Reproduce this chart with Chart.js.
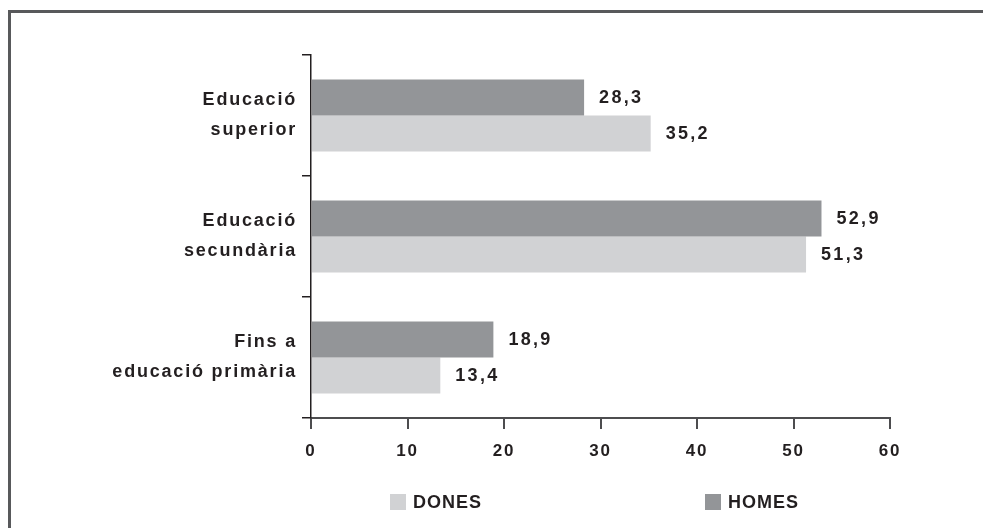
<!DOCTYPE html>
<html lang="ca">
<head>
<meta charset="utf-8">
<title>Nivell educatiu per sexe</title>
<script src="https://cdn.jsdelivr.net/npm/chart.js@4/dist/chart.umd.min.js"></script>
<style>
  html, body { margin: 0; padding: 0; background: #ffffff; overflow: hidden; }
  #frame {
    position: absolute; left: 8px; top: 10px; width: 2000px; height: 2000px;
    border-top: 3px solid #58595b; border-left: 3px solid #58595b;
  }
  #chart { position: absolute; left: 0; top: 0; }
</style>
</head>
<body>
<div id="frame"></div>
<canvas id="chart" width="983" height="528"></canvas>
<script>
// Nivell educatiu assolit (%), per sexe
const categories = [
  ['Educació', 'superior'],
  ['Educació', 'secundària'],
  ['Fins a', 'educació primària']
];
const homes = [28.3, 52.9, 18.9];
const dones = [35.2, 51.3, 13.4];
const seriesNames = ['HOMES', 'DONES'];
const legendOrder = ['DONES', 'HOMES'];
const xMin = 0, xMax = 60, xStep = 10;

const INK = '#231f20';
const AXIS = '#4d4d4f';
const FONT = '"Liberation Sans", Arial, Helvetica, sans-serif';

const fmt = v => v.toFixed(1).replace('.', ',');

// Helvetica-style tracking for the axis texts
const tracking = {
  id: 'tracking',
  beforeUpdate(chart) { chart.ctx.letterSpacing = '1.8px'; },
  beforeDraw(chart) { chart.ctx.letterSpacing = '1.8px'; }
};

// Value written just past the end of each bar
const valueLabels = {
  id: 'valueLabels',
  afterDatasetsDraw(chart) {
    const ctx = chart.ctx;
    ctx.save();
    ctx.font = 'bold 18px ' + FONT;
    ctx.letterSpacing = '2.3px';
    ctx.fillStyle = INK;
    ctx.textAlign = 'left';
    ctx.textBaseline = 'middle';
    chart.data.datasets.forEach((ds, i) => {
      chart.getDatasetMeta(i).data.forEach((bar, j) => {
        ctx.fillText(fmt(ds.data[j]), bar.x + 15, bar.y + 1);
      });
    });
    ctx.restore();
  }
};

// Legend row under the axis
const bottomLegend = {
  id: 'bottomLegend',
  afterDraw(chart) {
    const ctx = chart.ctx;
    const area = chart.chartArea;
    const starts = [area.left + 79, area.left + 394];
    const y = area.bottom + 84;
    ctx.save();
    ctx.font = 'bold 18px ' + FONT;
    ctx.letterSpacing = '1px';
    ctx.textAlign = 'left';
    ctx.textBaseline = 'middle';
    legendOrder.forEach((name, k) => {
      const ds = chart.data.datasets.find(d => d.label === name);
      ctx.fillStyle = ds.backgroundColor;
      ctx.fillRect(starts[k], y - 8, 16, 16);
      ctx.fillStyle = INK;
      ctx.fillText(name, starts[k] + 23, y + 1);
    });
    ctx.restore();
  }
};

new Chart(document.getElementById('chart'), {
  type: 'bar',
  data: {
    labels: categories,
    datasets: [
      { label: seriesNames[0], data: homes, backgroundColor: '#939598' },
      { label: seriesNames[1], data: dones, backgroundColor: '#d1d2d4' }
    ]
  },
  options: {
    indexAxis: 'y',
    responsive: false,
    devicePixelRatio: 1,
    animation: false,
    categoryPercentage: 0.595,
    barPercentage: 1,
    layout: { padding: { top: 55, right: 93, bottom: 0, left: 0 } },
    plugins: { legend: { display: false }, tooltip: { enabled: false } },
    scales: {
      x: {
        min: xMin, max: xMax,
        afterFit: s => { s.height = 110; },
        ticks: { stepSize: xStep, color: INK, padding: 12, font: { family: FONT, size: 17, weight: 'bold' } },
        grid: { drawOnChartArea: false, tickLength: 11, color: AXIS, lineWidth: 2 },
        border: { color: AXIS, width: 2 }
      },
      y: {
        afterFit: s => { s.width = 311; },
        ticks: { color: INK, padding: 5, font: { family: FONT, size: 18, weight: 'bold', lineHeight: 1.667 } },
        grid: { offset: true, drawOnChartArea: false, tickLength: 9, color: INK, lineWidth: 1.5 },
        border: { color: INK, width: 1.5 }
      }
    }
  },
  plugins: [tracking, valueLabels, bottomLegend]
});
</script>
</body>
</html>
